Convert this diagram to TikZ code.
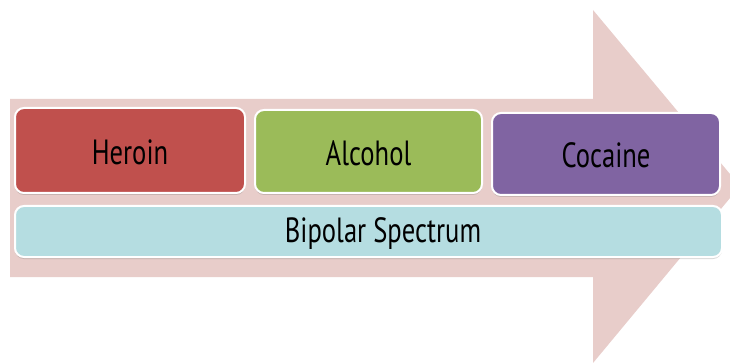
\documentclass[tikz,border=0pt]{standalone}
\usepackage{fontspec}
\setmainfont{PT Sans}
\newfontfamily\gill[FakeStretch=0.76]{PT Sans}
\usetikzlibrary{shadows}
\definecolor{arrowpink}{HTML}{E8CDCA}
\definecolor{heroinred}{HTML}{C0504D}
\definecolor{alcgreen}{HTML}{9BBB59}
\definecolor{cocpurple}{HTML}{8064A2}
\definecolor{bipcyan}{HTML}{B5DDE1}
\tikzset{
  pill/.style={draw=white, line width=2pt, rounded corners=9pt,
    drop shadow={shadow xshift=0pt, shadow yshift=-2pt, opacity=0.25, fill=black!60}},
  label/.style={font=\gill\fontsize{35}{38}\selectfont, text=black, inner sep=0pt, anchor=base},
}
\begin{document}
\begin{tikzpicture}[x=1pt,y=-1pt]
\useasboundingbox (0,0) rectangle (730,363);
% big arrow
\fill[arrowpink] (10,99) -- (593,99) -- (593,10) -- (740,186) -- (593,363) -- (593,277) -- (10,277) -- cycle;
% boxes
\path[pill, fill=heroinred] (15,108) rectangle (245,193);
\node[label] (her) at (130,165) {Heroin};
\path[pill, fill=alcgreen] (255,110) rectangle (482,193);
\node[label] (alc) at (368.5,166) {Alcohol};
\path[pill, fill=cocpurple] (492,113) rectangle (720,195);
\node[label] (coc) at (606,168) {Cocaine};
\path[pill, fill=bipcyan] (15,206) rectangle (722,257);
\node[label] (bip) at (383,242) {Bipolar Spectrum};
\end{tikzpicture}
\end{document}
